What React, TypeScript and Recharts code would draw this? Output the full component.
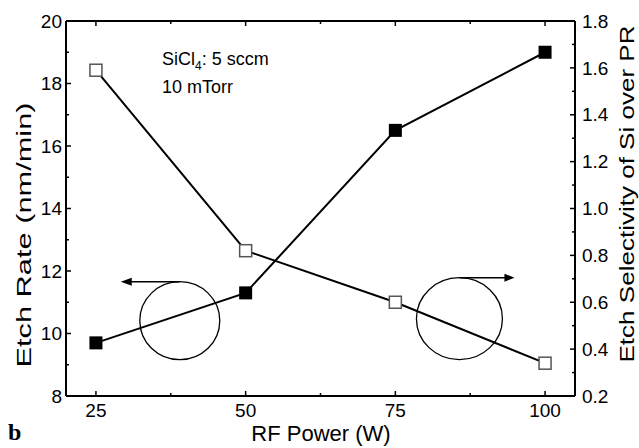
import React from "react";
import { ComposedChart, Line, XAxis, YAxis, ReferenceDot, Customized } from "recharts";

const power = [25, 50, 75, 100];
const etchRate = [9.7, 11.3, 16.5, 19.0];
const selectivity = [1.59, 0.82, 0.6, 0.34];

const xTicks = [25, 37.5, 50, 62.5, 75, 87.5, 100];
const leftTicks = [8, 9, 10, 11, 12, 13, 14, 15, 16, 17, 18, 19, 20];
const rightTicks = [0.2, 0.3, 0.4, 0.5, 0.6, 0.7, 0.8, 0.9, 1.0, 1.1, 1.2, 1.3, 1.4, 1.5, 1.6, 1.7, 1.8];

const data = power.map((p, i) => ({ power: p, etch: etchRate[i], sel: selectivity[i] }));

const FONT = "'Liberation Sans', Arial, sans-serif";

function BottomTick(props: any) {
  const { x, y, payload } = props;
  const major = payload.value % 25 === 0;
  return (
    <g>
      <line x1={x} x2={x} y1={y} y2={y - (major ? 5 : 3)} stroke="#000" strokeWidth={1.5} />
      {major && (
        <text x={x} y={y + 8} dy="0.71em" textAnchor="middle" fontSize={19} fontFamily={FONT} fill="#000">
          {payload.value}
        </text>
      )}
    </g>
  );
}

function TopTick(props: any) {
  const { x, y, payload } = props;
  const major = payload.value % 25 === 0;
  return <line x1={x} x2={x} y1={y} y2={y + (major ? 5 : 3)} stroke="#000" strokeWidth={1.5} />;
}

function LeftTick(props: any) {
  const { x, y, payload } = props;
  const major = payload.value % 2 === 0;
  return (
    <g>
      <line x1={x} x2={x + (major ? 5 : 3)} y1={y} y2={y} stroke="#000" strokeWidth={1.5} />
      {major && (
        <text x={x - 4} y={y} dy="0.35em" textAnchor="end" fontSize={19} fontFamily={FONT} fill="#000">
          {payload.value}
        </text>
      )}
    </g>
  );
}

function RightTick(props: any) {
  const { x, y, payload, index } = props;
  const major = index % 2 === 0;
  return (
    <g>
      <line x1={x} x2={x - (major ? 5 : 3)} y1={y} y2={y} stroke="#000" strokeWidth={1.5} />
      {major && (
        <text x={x + 7} y={y} dy="0.35em" textAnchor="start" fontSize={19} fontFamily={FONT} fill="#000">
          {Number(payload.value).toFixed(1)}
        </text>
      )}
    </g>
  );
}

function FilledSquare(props: any) {
  const { cx, cy } = props;
  return <rect x={cx - 6.5} y={cy - 6.5} width={13} height={13} fill="#000" />;
}

function OpenSquare(props: any) {
  const { cx, cy } = props;
  return <rect x={cx - 6} y={cy - 6} width={12} height={12} fill="#fff" stroke="#555" strokeWidth={1.5} />;
}

function LeftMarker(props: any) {
  const { cx, cy } = props;
  const top = cy - 39;
  return (
    <g>
      <ellipse cx={cx} cy={cy} rx={40} ry={39} fill="none" stroke="#000" strokeWidth={1.3} />
      <line x1={cx} y1={top} x2={cx - 50} y2={top} stroke="#000" strokeWidth={1.5} />
      <polygon points={`${cx - 59},${top} ${cx - 48},${top - 4} ${cx - 48},${top + 4}`} fill="#000" />
    </g>
  );
}

function RightMarker(props: any) {
  const { cx, cy } = props;
  const top = cy - 41;
  return (
    <g>
      <ellipse cx={cx} cy={cy} rx={43} ry={41} fill="none" stroke="#000" strokeWidth={1.3} />
      <line x1={cx} y1={top} x2={cx + 47} y2={top} stroke="#000" strokeWidth={1.5} />
      <polygon points={`${cx + 55},${top} ${cx + 45},${top - 4} ${cx + 45},${top + 4}`} fill="#000" />
    </g>
  );
}

function Texts() {
  return (
    <g fontFamily={FONT} fill="#000">
      <text x={162} y={65} fontSize={18}>
        SiCl<tspan fontSize={12} dy={5}>4</tspan>
        <tspan dy={-5}>: 5 sccm</tspan>
      </text>
      <text x={162} y={93} fontSize={18}>10 mTorr</text>
      <text transform="translate(31,235) rotate(-90)" textAnchor="middle" fontSize={20} textLength={265} lengthAdjust="spacingAndGlyphs">
        Etch Rate (nm/min)
      </text>
      <text transform="translate(634,194) rotate(-90)" textAnchor="middle" fontSize={20} textLength={337} lengthAdjust="spacingAndGlyphs">
        Etch Selectivity of Si over PR
      </text>
      <text x={321} y={441} textAnchor="middle" fontSize={22}>RF Power (W)</text>
      <text x={8} y={440} fontSize={24} fontWeight="bold" fontFamily="'Liberation Serif', 'Times New Roman', serif">b</text>
    </g>
  );
}

export default function App() {
  return (
    <div style={{ position: "absolute", left: 0, top: 0, background: "#fff" }}>
      <ComposedChart width={639} height={448} data={data} margin={{ top: 20, right: 0, bottom: 0, left: 0 }}>
        <XAxis
          dataKey="power"
          type="number"
          domain={[20, 105]}
          ticks={xTicks}
          interval={0}
          height={52}
          tickSize={0}
          tickMargin={0}
          tickLine={false}
          tick={<BottomTick />}
          axisLine={{ stroke: "#000", strokeWidth: 2 }}
        />
        <XAxis
          xAxisId="top"
          orientation="top"
          dataKey="power"
          type="number"
          domain={[20, 105]}
          ticks={xTicks}
          interval={0}
          height={1}
          tickSize={0}
          tickMargin={0}
          tickLine={false}
          tick={<TopTick />}
          axisLine={{ stroke: "#000", strokeWidth: 2 }}
        />
        <YAxis
          yAxisId="left"
          domain={[8, 20]}
          ticks={leftTicks}
          interval={0}
          width={66}
          tickSize={0}
          tickMargin={0}
          tickLine={false}
          tick={<LeftTick />}
          axisLine={{ stroke: "#000", strokeWidth: 2 }}
        />
        <YAxis
          yAxisId="right"
          orientation="right"
          domain={[0.2, 1.8]}
          ticks={rightTicks}
          interval={0}
          width={64}
          tickSize={0}
          tickMargin={0}
          tickLine={false}
          tick={<RightTick />}
          axisLine={{ stroke: "#000", strokeWidth: 2 }}
        />
        <ReferenceDot yAxisId="left" x={39} y={10.41} r={0} shape={(p: any) => <LeftMarker {...p} />} />
        <ReferenceDot yAxisId="right" x={85.7} y={0.53} r={0} shape={(p: any) => <RightMarker {...p} />} />
        <Line
          yAxisId="left"
          dataKey="etch"
          stroke="#000"
          strokeWidth={2}
          dot={<FilledSquare />}
          isAnimationActive={false}
        />
        <Line
          yAxisId="right"
          dataKey="sel"
          stroke="#000"
          strokeWidth={2}
          dot={<OpenSquare />}
          isAnimationActive={false}
        />
        <Customized component={Texts} />
      </ComposedChart>
    </div>
  );
}
